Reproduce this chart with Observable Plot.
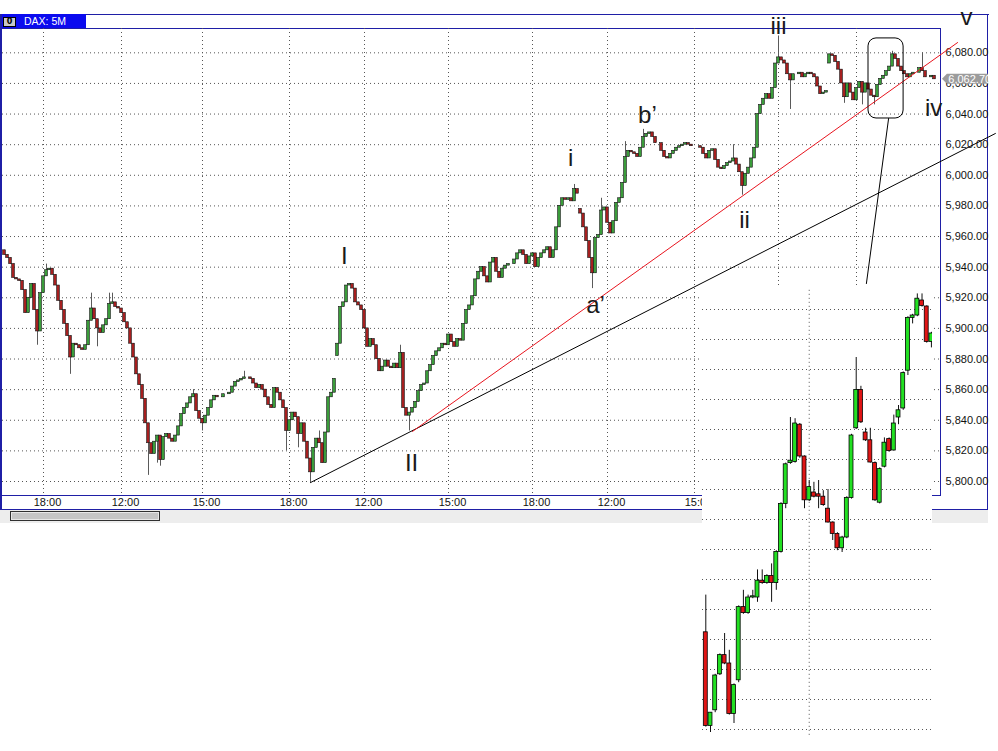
<!DOCTYPE html>
<html><head><meta charset="utf-8">
<script src="https://cdn.jsdelivr.net/npm/d3@7"></script>
<script src="https://cdn.jsdelivr.net/npm/@observablehq/plot@0.6"></script>
<style>
html,body{margin:0;padding:0;background:#fff;width:998px;height:751px;overflow:hidden;font-family:"Liberation Sans",Arial,sans-serif;}
#stage{position:relative;width:998px;height:751px;}
.abs{position:absolute;}
.bl{background:#1f1fa6;}
</style></head><body>
<div id="stage">
  <div class="abs bl" style="left:0;top:14px;width:989px;height:1px"></div>
  <div class="abs" style="left:0;top:14px;width:86px;height:14px;background:#0b0bef;"></div>
  <div class="abs" style="left:3px;top:17px;width:11px;height:8px;background:#c8c8c8;border:1px solid #000;font:bold 8px/8px 'DejaVu Sans',sans-serif;text-align:center;color:#000">0</div>
  <div class="abs" style="left:24px;top:14px;height:14px;color:#fff;font:10.5px/14px 'Liberation Sans',Arial,sans-serif;">DAX: 5M</div>
  <div class="abs bl" style="left:0;top:28px;width:941px;height:1px"></div>
  <div class="abs bl" style="left:0;top:14px;width:2px;height:496px"></div>
  <div class="abs bl" style="left:940px;top:28px;width:1px;height:468px"></div>
  <div class="abs bl" style="left:0;top:495px;width:941px;height:1px"></div>
  <div class="abs bl" style="left:987px;top:14px;width:1px;height:496px"></div>
  <div class="abs bl" style="left:0;top:509px;width:988px;height:1px"></div>
  <div class="abs" style="left:0;top:510px;width:988px;height:13px;background:#ededed"></div>
  <div class="abs" style="left:10px;top:511px;width:148px;height:8px;background:#c6c6c6;border:1px solid #303030;box-shadow:inset 0 0 0 1px #e8e8e8"></div>
  <div id="main" class="abs" style="left:0;top:0"></div>
  <div id="inset" class="abs" style="left:702px;top:285px"></div>
</div>
<script>
// ---- main chart data (DAX 5M closes, one per bar) ----
const closes = [
5948,5946,5942,5933,5932,5931,5925,5910,5920,5929,
5912,5898,5923,5934,5938,5939,5935,5928,5918,5912,
5903,5895,5881,5890,5889,5887,5886,5889,5905,5913,
5906,5900,5897,5902,5906,5916,5917,5914,5913,5910,
5904,5900,5890,5881,5870,5863,5854,5838,5825,5818,
5826,5830,5814,5829,5831,5828,5826,5830,5836,5844,
5848,5851,5855,5857,5846,5841,5838,5843,5848,5853,
5856,5855,5855,5857,5857,5858,5862,5865,5866,5867,
5868,5868,5867,5864,5861,5863,5860,5855,5850,5848,
5861,5858,5853,5848,5833,5840,5845,5842,5831,5838,
5826,5815,5806,5822,5828,5825,5812,5832,5855,5858,
5867,5890,5914,5917,5928,5929,5926,5917,5915,5912,
5900,5888,5893,5889,5880,5872,5875,5879,5875,5874,
5877,5874,5884,5848,5843,5845,5848,5852,5859,5863,
5864,5872,5876,5882,5885,5887,5890,5889,5896,5891,
5888,5893,5892,5903,5912,5915,5921,5932,5937,5940,
5934,5930,5943,5946,5937,5933,5939,5941,5942,5942,
5945,5949,5951,5948,5942,5947,5949,5940,5946,5949,
5951,5953,5946,5951,5966,5980,5985,5984,5985,5983,
5991,5988,5975,5966,5957,5946,5936,5959,5961,5977,
5979,5969,5962,5970,5982,5985,5995,6012,6016,6015,
6014,6012,6018,6025,6027,6028,6025,6021,6021,6016,
6012,6011,6014,6016,6018,6019,6020,6021,6020,6019,
6019,6019,6018,6014,6011,6016,6017,6010,6005,6004,
6006,6008,6009,6011,6007,6002,5993,6001,6005,6011,
6018,6040,6046,6050,6053,6050,6057,6073,6077,6075,
6073,6066,6062,6066,6066,6067,6064,6066,6067,6066,
6064,6058,6053,6054,6055,6079,6078,6074,6069,6060,
6051,6060,6054,6049,6057,6061,6054,6060,6056,6052,
6051,6059,6063,6065,6068,6071,6079,6076,6071,6068,
6066,6064,6066,6067,6067,6070,6068,6064,6064,6065,
6062.7
];
const firstOpen = 5951;
// session-gap opens: [bar, open]
const gapOpens = [[111, 5882], [192, 5978], [275, 6073]];
// wicks: [bar, high, low]
const wicks = [
 [11,null,5889],[14,5942,null],[22,null,5870],[29,5923,null],[31,null,5888],[35,5923,null],
 [36,5923,null],[48,null,5804],[51,null,5812],[52,null,5810],[63,5860,null],[66,null,5833],
 [80,5872,null],[94,null,5820],[98,null,5822],[102,null,5799],[105,5833,null],[132,5889,null],
 [135,null,5833],[190,5994,null],[196,null,5926],[199,5985,null],[207,6022,null],[213,6030,null],
 [243,6020,null],[246,null,5987],[258,6091,null],[262,null,6043],[280,null,6047],[286,null,6046],
 [290,null,6046],[296,6081,null],[306,6080,null]
];
const priceTicks = [5800,5820,5840,5860,5880,5900,5920,5940,5960,5980,6000,6020,6040,6060,6080];
const timeTickBars = [13,39,66,95,120,148,176,201,230,258,284];
const timeLabels = ["18:00","12:00","15:00","18:00","12:00","15:00","18:00","12:00","15:00","18:00","12:00"];
const lastPrice = 6062.70;
// annotations (bar, price)
const waveText  = ["I","II","i","ii","iii","iv","v","a\u2019","b\u2019"];
const waveBar   = [113.3,135.7,188.7,246.7,258,309.7,320.7,197,214.3];
const wavePrice = [5947.4,5811.6,6011.4,5970.3,6097.6,6043.5,6102.9,5915.4,6038.9];
const blackTrend = [[102,5799.3],[330.3,6027.3]];
const redTrend   = [[136,5832.7],[317.7,6086.7]];
const connector  = [[294.7,6037.1],[287.3,5929.3]];
const zoomBox    = [288,299.7,6037.1,6089.4]; // bar1, bar2, price1, price2

// ---- inset (zoomed box) data ----
const insetOpen  = [6053.1,6045.3,6046.6,6049.6,6051.2,6050.5,6046.3,6049.1,6055.2,6054.7,6056.0,6056.0,6057.4,6057.2,6057.8,6057.2,6059.8,6063.8,6067.2,6067.3,6070.4,6067.75,6064.1,6064.75,6064.6,6064.4,6063.4,6062.25,6061.3,6060.1,6061.0,6064.3,6070.1,6073.3,6069.75,6069.1,6067.2,6063.9,6066.9,6069.2,6068.25,6071.0,6071.75,6074.9,6079.3,6079.5,6080.75,6080.25,6077.3];
const insetClose = [6045.3,6046.4,6049.5,6051.2,6050.5,6046.3,6048.7,6055.2,6054.7,6056.0,6056.1,6057.4,6057.2,6057.8,6057.2,6059.8,6063.8,6067.1,6067.4,6070.5,6067.75,6064.1,6065.2,6064.4,6064.4,6063.7,6062.25,6061.3,6060.1,6061.0,6064.3,6069.5,6073.3,6070.6,6069.1,6067.25,6064.1,6066.7,6068.9,6068.2,6070.5,6071.6,6074.7,6079.3,6079.5,6080.9,6080.3,6077.3,6078.0];
const insetHigh  = [6056.2,6046.4,6049.6,6051.3,6053.0,6051.6,6048.8,6055.3,6056.6,6056.2,6056.6,6058.3,6058.3,6057.9,6058.8,6059.9,6063.9,6067.2,6071.0,6070.9,6070.5,6067.8,6065.75,6065.6,6065.75,6064.9,6065.0,6062.3,6061.4,6061.1,6064.4,6069.6,6076.0,6073.6,6070.1,6070.1,6067.3,6066.8,6069.3,6069.3,6071.2,6072.0,6074.8,6079.4,6079.6,6081.3,6081.3,6080.3,6078.1];
const insetLow   = [6045.2,6044.75,6046.4,6049.5,6050.4,6046.2,6045.5,6048.9,6054.6,6054.6,6055.9,6055.6,6057.1,6057.1,6055.6,6056.6,6059.7,6063.4,6067.1,6067.2,6067.6,6063.4,6064.0,6064.3,6063.4,6063.6,6062.2,6060.75,6059.9,6059.75,6060.9,6064.2,6070.0,6070.5,6069.0,6067.2,6064.0,6063.8,6066.8,6068.1,6068.2,6070.4,6071.6,6074.5,6078.8,6079.4,6080.2,6077.2,6076.8];
const insetPriceTicks = [6045,6047.5,6050,6052.5,6055,6057.5,6060,6062.5,6065,6067.5,6070,6072.5,6075,6077.5,6080];
const insetTimeTicks = [22];
const insetGridSpan = [6081.6, 6044.5];

// ---- build candles ----
const gapMap = new Map(gapOpens);
const wickMap = new Map(wicks.map(w => [w[0], w]));
const candles = closes.map((c, i) => {
  const o = gapMap.has(i) ? gapMap.get(i) : (i === 0 ? firstOpen : closes[i - 1]);
  const w = wickMap.get(i);
  let h = Math.max(o, c), l = Math.min(o, c);
  if (w && w[1] != null) h = Math.max(h, w[1]);
  if (w && w[2] != null) l = Math.min(l, w[2]);
  return {i, o, c, h, l};
});
const green = "#3a9c3a", red = "#a51f1f";
const font = "'Liberation Sans', Arial, sans-serif";
const fmt = d3.format(",.2f");
const N = closes.length;
const toPts = arr => arr.map(([b, p]) => ({b, p}));
const tagShape = [
  {b: N + 1.67, lo: lastPrice, hi: lastPrice},
  {b: N + 3.3, lo: lastPrice - 3.3, hi: lastPrice + 3.3},
  {b: N + 17, lo: lastPrice - 3.3, hi: lastPrice + 3.3}
];

const main = Plot.plot({
  width: 998, height: 751,
  marginLeft: 2, marginRight: 57, marginTop: 28, marginBottom: 256,
  style: {background: "transparent", fontFamily: font, overflow: "visible"},
  x: {domain: [-2/3, 312 + 1/3], axis: null},
  y: {domain: [5790.86, 6095.88], axis: null},
  marks: [
    Plot.ruleY(priceTicks, {y: d => d, stroke: "#555", strokeDasharray: "1,3"}),
    Plot.ruleX(timeTickBars, {x: d => d, stroke: "#555", strokeDasharray: "1,3"}),
    Plot.text(priceTicks, {y: d => d, frameAnchor: "right", textAnchor: "start", dx: 4, text: d => fmt(d), fontSize: 11, fill: "#111"}),
    Plot.text(timeTickBars, {x: d => d, frameAnchor: "bottom", lineAnchor: "top", dy: 3, dx: 4, text: (d, i) => timeLabels[i], fontSize: 11, fill: "#111"}),
    Plot.ruleX(candles, {x: "i", y1: "l", y2: "h", stroke: "#5a5a5a", strokeWidth: 1}),
    Plot.rect(candles, {x1: d => d.i - 0.45, x2: d => d.i + 0.45, y1: "o", y2: "c",
      fill: d => d.c >= d.o ? green : red, stroke: "#141414", strokeWidth: 0.6}),
    Plot.line(toPts(blackTrend), {x: "b", y: "p", stroke: "#000", strokeWidth: 1}),
    Plot.line(toPts(redTrend), {x: "b", y: "p", stroke: "#e8141e", strokeWidth: 1}),
    Plot.line(toPts(connector), {x: "b", y: "p", stroke: "#000", strokeWidth: 1}),
    Plot.rect([zoomBox], {x1: d => d[0], x2: d => d[1], y1: d => d[2], y2: d => d[3], fill: "none", stroke: "#000", strokeWidth: 1, rx: 8}),
    Plot.areaY(tagShape, {x: "b", y1: "lo", y2: "hi", fill: "#9c9c9c", curve: "linear"}),
    Plot.text([lastPrice], {x: () => N + 3.6, y: d => d, text: d => fmt(d), textAnchor: "start", fill: "#fff", fontSize: 11}),
    Plot.text(waveText, {x: (d, i) => waveBar[i], y: (d, i) => wavePrice[i], text: d => d, fontSize: 24, fill: "#1a1a1a", lineAnchor: "middle"})
  ]
});
document.getElementById("main").appendChild(main);

const insetCandles = insetOpen.map((o, k) => ({k, o, c: insetClose[k], h: insetHigh[k], l: insetLow[k]}));
const inset = Plot.plot({
  width: 230, height: 466, margin: 0,
  style: {background: "#fff", fontFamily: font},
  x: {domain: [-0.702, 48.23], axis: null},
  y: {domain: [6043.1667, 6082], axis: null},
  marks: [
    Plot.ruleY(insetPriceTicks, {y: d => d, stroke: "#555", strokeDasharray: "1,3"}),
    Plot.ruleX(insetTimeTicks, {x: d => d, y1: () => insetGridSpan[0], y2: () => insetGridSpan[1], stroke: "#555", strokeDasharray: "1,3"}),
    Plot.ruleX(insetCandles, {x: "k", y1: "l", y2: "h", stroke: "#111", strokeWidth: 1}),
    Plot.rect(insetCandles, {x1: d => d.k - 0.42, x2: d => d.k + 0.42, y1: "o", y2: "c",
      fill: d => d.c >= d.o ? "#22e022" : "#e01515", stroke: "#000", strokeWidth: 0.8})
  ]
});
document.getElementById("inset").appendChild(inset);
</script>
</body></html>
